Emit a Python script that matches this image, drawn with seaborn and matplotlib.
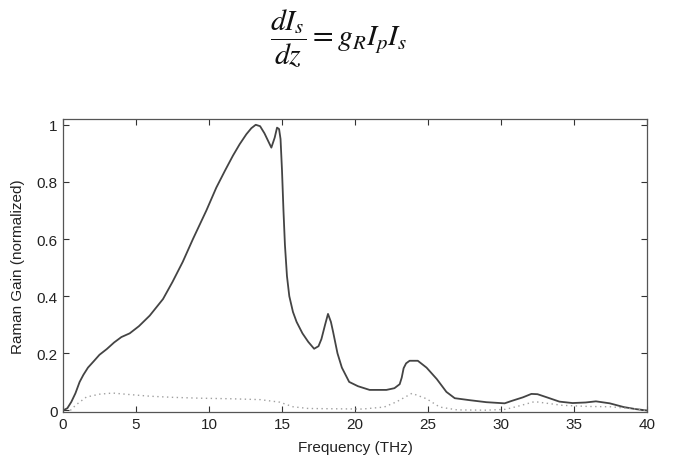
import numpy as np
import pandas as pd
import matplotlib.pyplot as plt
import seaborn as sns

# solid curve: Raman gain of silica (normalized)
freq_par = [0, 0.3, 0.57, 0.85, 1.14, 1.4, 1.71, 2.1, 2.5, 3.0, 3.5, 4.0, 4.57, 5.2, 5.94,
            6.85, 7.5, 8.2, 8.9, 9.82, 10.5, 11.1, 11.64, 12.1, 12.56, 12.9, 13.2, 13.5, 13.8,
            14.27, 14.5, 14.66, 14.8, 14.9, 15.0, 15.1, 15.2, 15.34, 15.5, 15.75, 16.0, 16.4,
            16.8, 17.2, 17.5, 17.7, 17.95, 18.15, 18.35, 18.5, 18.8, 19.1, 19.6, 20.2, 21.0,
            22.15, 22.7, 23.06, 23.2, 23.33, 23.5, 23.74, 24.3, 24.9, 25.6, 26.26, 26.83,
            27.86, 29.0, 30.25, 30.7, 31.5, 32.08, 32.5, 33.2, 34.0, 34.9, 35.8, 36.5, 37.45,
            38.4, 39.2, 40]
gain_par = [0, 0.008, 0.03, 0.06, 0.1, 0.125, 0.15, 0.172, 0.195, 0.215, 0.238, 0.257, 0.27,
            0.295, 0.332, 0.39, 0.45, 0.52, 0.6, 0.70, 0.78, 0.84, 0.892, 0.932, 0.967,
            0.988, 1.0, 0.995, 0.97, 0.92, 0.955, 0.99, 0.985, 0.95, 0.84, 0.70, 0.58, 0.47,
            0.40, 0.345, 0.31, 0.27, 0.24, 0.216, 0.225, 0.25, 0.3, 0.338, 0.31, 0.275, 0.2,
            0.15, 0.1, 0.085, 0.072, 0.072, 0.078, 0.092, 0.115, 0.148, 0.165, 0.174, 0.174,
            0.15, 0.11, 0.065, 0.043, 0.036, 0.029, 0.025, 0.033, 0.046, 0.058, 0.057, 0.045,
            0.031, 0.026, 0.028, 0.032, 0.025, 0.012, 0.005, 0.0]

# dotted curve: orthogonal polarization
freq_perp = [0.5, 0.9, 1.6, 2.5, 3.4, 4.5, 5.94, 7.5, 9.36, 11.5, 13.5, 14.85, 15.75, 16.8,
             18.5, 20.5, 22.0, 22.83, 23.9, 24.9, 25.8, 27.0, 29.0, 30.3, 31.1, 32.3, 34.2,
             36.0, 37.5, 39.0, 40]
gain_perp = [0, 0.02, 0.047, 0.057, 0.061, 0.056, 0.05, 0.046, 0.043, 0.041, 0.038, 0.029,
             0.013, 0.007, 0.006, 0.005, 0.012, 0.03, 0.06, 0.041, 0.012, 0.002, 0.001,
             0.004, 0.014, 0.031, 0.018, 0.014, 0.013, 0.006, 0.0]

sns.set_style("ticks")
plt.rcParams['font.family'] = ['Liberation Sans', 'DejaVu Sans']
plt.rcParams['mathtext.fontset'] = 'stix'

fig = plt.figure(figsize=(6.73, 4.6), dpi=100)
ax = fig.add_axes([0.0936, 0.103, 0.8678, 0.636])

df_par = pd.DataFrame({"f": freq_par, "g": gain_par})
df_perp = pd.DataFrame({"f": freq_perp, "g": gain_perp})
sns.lineplot(data=df_par, x="f", y="g", ax=ax, color="#444444", linewidth=1.3)
sns.lineplot(data=df_perp, x="f", y="g", ax=ax, color="#a0a0a0", linewidth=1.0,
             linestyle=(0, (1, 2.5)))
for ln in ax.lines:
    ln.set_solid_joinstyle("round")

ax.set_xlim(0, 40)
ax.set_ylim(-0.004, 1.02)
ax.set_xticks([0, 5, 10, 15, 20, 25, 30, 35, 40])
ax.set_yticks([0, 0.2, 0.4, 0.6, 0.8, 1])
ax.set_yticklabels(["0", "0.2", "0.4", "0.6", "0.8", "1"])
ax.tick_params(direction="in", top=True, right=True, labelsize=11, length=4,
               width=0.8, colors="#333333", labelcolor="#222222", pad=4)
for s in ax.spines.values():
    s.set_color("#555555")
    s.set_linewidth(0.9)
ax.set_xlabel("Frequency (THz)", fontsize=11, color="#222222", labelpad=6)
ax.set_ylabel("Raman Gain (normalized)", fontsize=11, color="#222222", labelpad=8)

fig.text(0.504, 0.918, r'$\dfrac{dI_s}{dz} = g_R I_p I_s$', fontsize=21.5,
         ha="center", va="center", color="#111111")

fig.savefig("out.png", dpi=100)
